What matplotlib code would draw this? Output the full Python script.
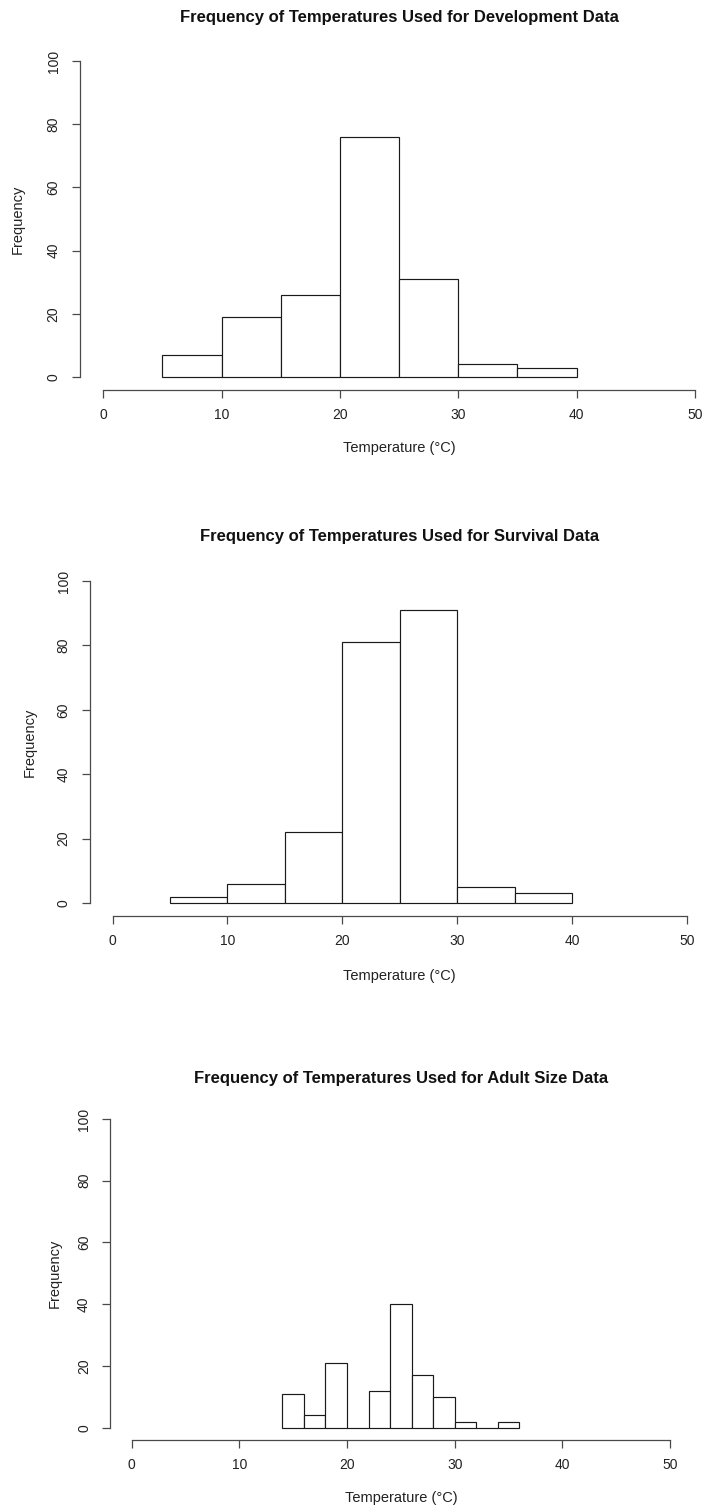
import matplotlib
matplotlib.use("Agg")
import matplotlib.pyplot as plt
import numpy as np

plt.rcParams['font.family'] = ['Liberation Sans', 'DejaVu Sans']

# ---- data ----
dev_breaks = [5, 10, 15, 20, 25, 30, 35, 40]
dev_counts = [7, 19, 26, 76, 31, 4, 3]

surv_breaks = [5, 10, 15, 20, 25, 30, 35, 40]
surv_counts = [2, 6, 22, 81, 91, 5, 3]

size_breaks = [14, 16, 18, 20, 22, 24, 26, 28, 30, 32, 34, 36]
size_counts = [11, 4, 21, 0, 12, 40, 17, 10, 2, 0, 2]

titles = ["Frequency of Temperatures Used for Development Data",
          "Frequency of Temperatures Used for Survival Data",
          "Frequency of Temperatures Used for Adult Size Data"]
x_ticks = [0, 10, 20, 30, 40, 50]
y_ticks = [0, 20, 40, 60, 80, 100]
x_label = "Temperature (\u00b0C)"
y_label = "Frequency"

W, H = 706, 1508
DPI = 100
fig = plt.figure(figsize=(W / DPI, H / DPI), dpi=DPI)

# pixel geometry for each panel
layout = [
    dict(x0=103.3, x50=695.0, y0=377.0, y100=61.0, ty=18, xly=448, ylo=62),
    dict(x0=112.6, x50=687.0, y0=903.0, y100=581.0, ty=536, xly=976, ylo=60),
    dict(x0=131.7, x50=670.0, y0=1427.7, y100=1119.0, ty=1078, xly=1498, ylo=55),
]
data = [(dev_breaks, dev_counts), (surv_breaks, surv_counts), (size_breaks, size_counts)]

ink = '#1a1a1a'
axis_col = '#4a4a4a'
px2pt = 72.0 / DPI

for i, (g, (br, ct), title) in enumerate(zip(layout, data, titles)):
    xs = (g['x50'] - g['x0']) / 50.0
    ys = (g['y0'] - g['y100']) / 100.0
    left = g['x0'] - 2 * xs
    right = g['x0'] + 52 * xs
    top = g['y100'] - 4 * ys
    bottom = g['y0'] + 4 * ys
    wpx, hpx = right - left, bottom - top
    ax = fig.add_axes([left / W, 1 - bottom / H, wpx / W, hpx / H])
    ax.set_xlim(-2, 52)
    ax.set_ylim(-4, 104)
    ax.set_facecolor('none')

    br = np.asarray(br, dtype=float)
    ax.bar(br[:-1], ct, width=np.diff(br), align='edge', color='white',
           edgecolor=ink, linewidth=0.85)

    for s in ['top', 'right']:
        ax.spines[s].set_visible(False)
    ax.spines['left'].set_bounds(0, 100)
    ax.spines['bottom'].set_bounds(0, 50)
    for s in ['left', 'bottom']:
        ax.spines[s].set_color(axis_col)
        ax.spines[s].set_linewidth(0.9)

    ax.set_xticks(x_ticks)
    ax.set_yticks(y_ticks)
    ax.tick_params(axis='both', length=8 * px2pt, width=0.9, color=axis_col,
                   labelsize=10, labelcolor='#222222')
    ax.tick_params(axis='x', pad=7.5)
    ax.tick_params(axis='y', pad=8, labelrotation=90)
    for lab in ax.get_yticklabels():
        lab.set_va('center')

    # title
    ax.set_title(title, fontsize=12, fontweight='bold', color='#111111',
                 y=(bottom - g['ty']) / hpx, va='center', pad=0)

    ax.set_xlabel(x_label, fontsize=10.5, color='#222222')
    ax.xaxis.label.set_va('center')
    ax.xaxis.set_label_coords(0.5, -(g['xly'] - bottom) / hpx)

    ax.set_ylabel(y_label, fontsize=10.5, color='#222222')
    ax.yaxis.label.set_va('center')
    ax.yaxis.set_label_coords(-g['ylo'] / wpx, 0.5)

fig.savefig("out.png", dpi=DPI)
